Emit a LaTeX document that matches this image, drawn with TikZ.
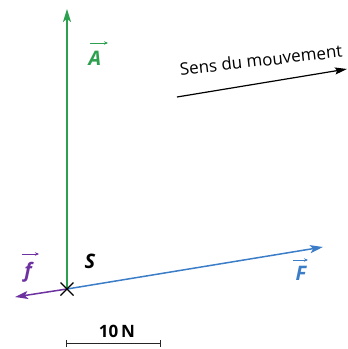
\documentclass[tikz,border=0pt]{standalone}
\usepackage{fontspec}
\setmainfont{Open Sans}
\usetikzlibrary{arrows.meta}
\definecolor{cA}{RGB}{45,160,80}
\definecolor{cF}{RGB}{60,125,200}
\definecolor{cf}{RGB}{110,50,160}
\tikzset{
  vec/.style={line width=1.5pt,-{Stealth[length=13pt,width=8pt,inset=3pt]}},
  lab/.style={inner sep=0pt,font=\fontsize{20}{20}\selectfont\bfseries\itshape},
  lab arrow/.style={line width=1pt,-{Stealth[length=4pt,width=3.5pt]}},
}
\begin{document}
\begin{tikzpicture}[x=1pt,y=-1pt]
\useasboundingbox (0,0) rectangle (348,349);
\coordinate (S) at (67,289);
\coordinate (Atip) at (67,9);
\coordinate (Ftip) at (323,247);
\coordinate (ftip) at (15,297);
\draw[vec,cA] (S) -- (Atip);
\draw[vec,cF] (S) -- (Ftip);
\draw[vec,cf] (S) -- (ftip);
\draw[line width=1.3pt] ([shift={(-6.5,-6.5)}]S) -- ([shift={(6.5,6.5)}]S) ([shift={(-6.5,6.5)}]S) -- ([shift={(6.5,-6.5)}]S);
% labels
\node[lab,cA] (A) at (95,58) {A};
\draw[lab arrow,cA] ([shift={(-5,-15)}]A.center) -- ++(18,0);
\node[lab,cF] (F) at (301,273) {F};
\draw[lab arrow,cF] ([shift={(-8,-13)}]F.center) -- ++(15,0);
\node[lab,cf] (f) at (28,272) {f};
\draw[lab arrow,cf] ([shift={(-6,-18)}]f.center) -- ++(17,0);
\node[lab] (Sl) at (90,261) {S};
% motion
\coordinate (m1) at (177,97);
\coordinate (m2) at (347,69);
\draw[line width=1.2pt,-{Stealth[length=12pt,width=7pt,inset=2pt]}] (m1) -- (m2);
\node[rotate=6.5,inner sep=0pt,font=\fontsize{17}{17}\selectfont] (sens) at (261,60) {Sens du mouvement};
% scale
\coordinate (b1) at (66,343);
\coordinate (b2) at (160,343);
\draw[line width=1pt,gray!30!black] (b1) -- (b2) ([yshift=-3.5]b1) -- ([yshift=3.5]b1) ([yshift=-3.5]b2) -- ([yshift=3.5]b2);
\node[inner sep=0pt,font=\fontsize{17}{17}\selectfont\bfseries] (ten) at (117,331) {10\,N};
\end{tikzpicture}
\end{document}
